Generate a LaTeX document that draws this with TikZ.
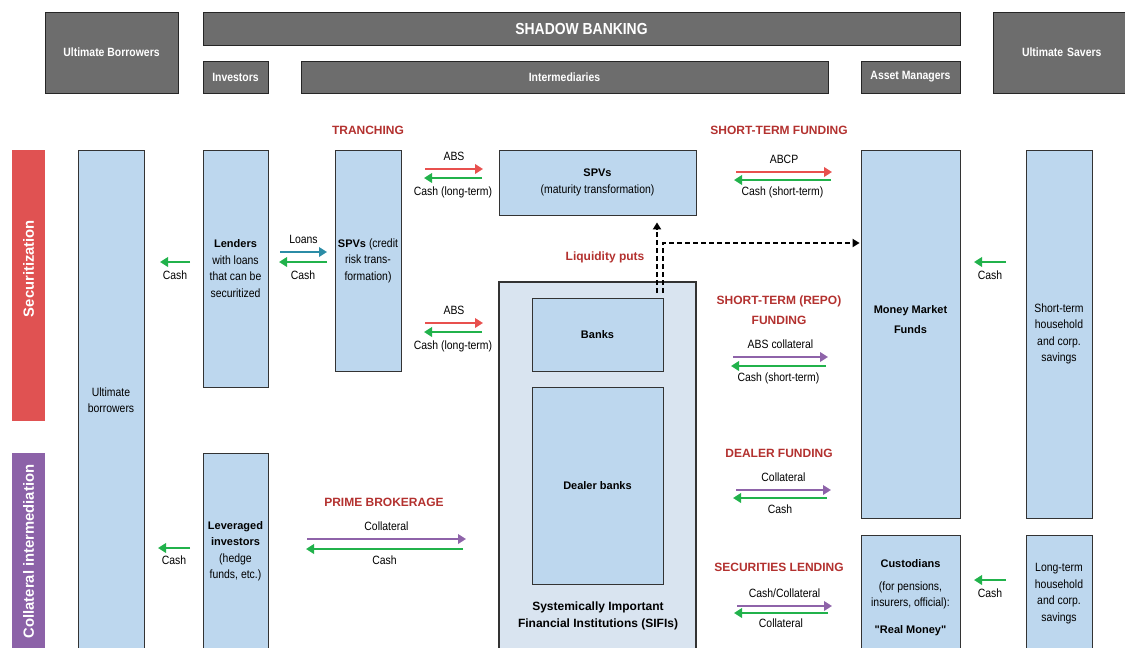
\documentclass[tikz,border=0pt]{standalone}
\usepackage{fontspec}
\setmainfont{Liberation Sans}[FakeStretch=0.87]
\newfontfamily\wideface{Liberation Sans}
\usetikzlibrary{positioning,arrows.meta}

\definecolor{hdgray}{HTML}{6D6D6D}
\definecolor{boxblue}{HTML}{BDD7EE}
\definecolor{sifiblue}{HTML}{D9E4F0}
\definecolor{secred}{HTML}{E05252}
\definecolor{collpurple}{HTML}{8C62A8}
\definecolor{flowred}{HTML}{E8504E}
\definecolor{flowgreen}{HTML}{21B24B}
\definecolor{flowpurple}{HTML}{8E63A9}
\definecolor{flowteal}{HTML}{2B8CA6}
\definecolor{headred}{HTML}{B3312F}

\newcommand{\bxtitle}[1]{{\wideface\bfseries\fontsize{11}{16.5}\selectfont #1}}

\begin{document}
\begin{tikzpicture}[x=1pt,y=-1pt]
\tikzstyle{hdr}=[draw=black!85,line width=1pt,fill=hdgray,text=white,inner sep=0pt,font=\bfseries\fontsize{12}{14}\selectfont]
\tikzstyle{sidebar}=[fill=#1,text=white,rotate=90,inner sep=0pt,minimum height=33pt,font=\wideface\bfseries\fontsize{14.8}{16}\selectfont]
\tikzstyle{bluebox}=[draw=black!80,line width=0.8pt,fill=boxblue,inner sep=0pt,align=center,font=\fontsize{12}{16.5}\selectfont]
\tikzstyle{boxtxt}=[inner sep=0pt,align=center,font=\fontsize{12}{16.5}\selectfont]
\tikzstyle{heading}=[inner sep=0pt,align=center,text=headred,font=\wideface\bfseries\fontsize{12}{20}\selectfont]
\tikzstyle{lbl}=[inner sep=0pt,text height=8.6pt,text depth=2.4pt,font=\fontsize{12}{14}\selectfont]
\tikzstyle{flow}=[line width=2.8pt,-{Triangle[length=8pt,width=9.5pt]},draw=#1]
\tikzstyle{puts}=[line width=2.2pt,dashed,dash pattern=on 5pt off 3pt,-{Triangle[length=7pt,width=8pt]}]

\useasboundingbox (0,0) rectangle (1125,648);
\clip (0,0) rectangle (1125,648);

% top bar
\node[hdr,minimum width=133pt,minimum height=81pt] (ubhead) at (111.5,52.5) {Ultimate Borrowers};
\node[hdr,minimum width=757pt,minimum height=33pt,font=\bfseries\fontsize{16}{18}\selectfont] (shadow) at (581.5,28.5) {SHADOW BANKING};
\node[hdr,minimum width=65pt,minimum height=32pt] (invhead) at (235.5,77) {Investors};
\node[hdr,minimum width=527pt,minimum height=32pt] (intmhead) at (564.5,77) {Intermediaries};
\node[hdr,minimum width=99pt,minimum height=32pt] (amhead) at (910.5,77) {Asset Managers};
\node[hdr,minimum width=137pt,minimum height=81pt,text width=131pt,align=left] (ushead) at (1061.5,52.5) {\hspace{26pt}Ultimate Savers};

% side bars
\node[sidebar=secred,minimum width=271pt] (secbar) at (28.5,285.5) {\hspace*{34pt}Securitization};
\node[sidebar=collpurple,minimum width=207pt] (collbar) at (28.5,556.5) {\hspace*{10pt}Collateral intermediation};

% boxes
\node[bluebox,minimum width=66pt,minimum height=500pt] (ubor) at (111,400) {Ultimate\\borrowers};
\node[bluebox,minimum width=65pt,minimum height=237pt] (lend) at (235.5,268.5) {\bxtitle{Lenders}\\with loans\\that can be\\securitized};
\node[bluebox,minimum width=66pt,minimum height=221pt] (spvc) at (368,260.5) {\bxtitle{SPVs} (credit\\risk trans-\\formation)};
\node[bluebox,minimum width=197pt,minimum height=65pt] (spvm) at (597.5,182.5) {\bxtitle{SPVs}\\(maturity transformation)};
\node[bluebox,fill=sifiblue,line width=1.3pt,minimum width=197pt,minimum height=378pt] (sifi) at (597.5,471) {};
\node[bluebox,minimum width=131pt,minimum height=73pt] (banks) at (597.5,334.5) {\bxtitle{Banks}};
\node[bluebox,minimum width=131pt,minimum height=197pt] (dealer) at (597.5,485.5) {\bxtitle{Dealer banks}};
\node[boxtxt,font=\wideface\bfseries\fontsize{12}{17}\selectfont] (sifilbl) at (598,615.5) {Systemically Important\\Financial Institutions (SIFIs)};
\node[bluebox,minimum width=99pt,minimum height=368pt] (mmf) at (910.5,334) {};
\node[boxtxt,font=\wideface\bfseries\fontsize{11}{20}\selectfont] (mmflbl) at (910.5,320) {Money Market\\Funds};
\node[bluebox,minimum width=99pt,minimum height=125pt] (cust) at (910.5,597.5) {\bxtitle{Custodians}\\[6.5pt](for pensions,\\insurers, official):\\[10.5pt]\bxtitle{"Real Money"}};
\node[bluebox,minimum width=66pt,minimum height=368pt] (stsav) at (1059,334) {Short-term\\household\\and corp.\\savings};
\node[bluebox,minimum width=66pt,minimum height=117pt] (ltsav) at (1059,593.5) {Long-term\\household\\and corp.\\savings};
\node[bluebox,minimum width=65pt,minimum height=197pt] (lev) at (235.5,551.5) {\bxtitle{Leveraged}\\\bxtitle{investors}\\(hedge\\funds, etc.)};

% headings
\node[heading] (tranch) at (368,130) {TRANCHING};
\node[heading] (stfund) at (779,130) {SHORT-TERM FUNDING};
\node[heading] (repo) at (779,310) {SHORT-TERM (REPO)\\FUNDING};
\node[heading] (dealfund) at (779,453) {DEALER FUNDING};
\node[heading] (seclend) at (779,567) {SECURITIES LENDING};
\node[heading] (prime) at (384,502) {PRIME BROKERAGE};
\node[heading] (liqputs) at (605,257) {Liquidity puts};

% flows
\draw[flow=flowgreen] (190,262) -- node[lbl,below=7pt] {Cash} (160,262);
\draw[flow=flowteal] (280,252) -- node[lbl,above=4.5pt] {Loans} (327,252);
\draw[flow=flowgreen] (327,262) -- node[lbl,below=7pt] {Cash} (279,262);
\draw[flow=flowred] (425,169) -- node[lbl,above=4.5pt] {ABS} (483,169);
\draw[flow=flowgreen] (482,178) -- node[lbl,below=7pt] {Cash (long-term)} (424,178);
\draw[flow=flowred] (425,323) -- node[lbl,above=4.5pt] {ABS} (483,323);
\draw[flow=flowgreen] (482,332) -- node[lbl,below=7pt] {Cash (long-term)} (424,332);
\draw[flow=flowred] (736,172) -- node[lbl,above=4.5pt] {ABCP} (832,172);
\draw[flow=flowgreen] (831,180) -- node[lbl,below=5pt] {Cash (short-term)} (734,180);
\draw[flow=flowpurple] (733,357) -- node[lbl,above=4.5pt] {ABS collateral} (828,357);
\draw[flow=flowgreen] (826,366) -- node[lbl,below=5pt] {Cash (short-term)} (731,366);
\draw[flow=flowpurple] (736,490) -- node[lbl,above=4.5pt] {Collateral} (831,490);
\draw[flow=flowgreen] (827,498) -- node[lbl,below=5pt] {Cash} (733,498);
\draw[flow=flowpurple] (737,606) -- node[lbl,above=4.5pt] {Cash/Collateral} (832,606);
\draw[flow=flowgreen] (828,613) -- node[lbl,below=4pt] {Collateral} (734,613);
\draw[flow=flowpurple] (307,539) -- node[lbl,above=4.5pt] {Collateral} (466,539);
\draw[flow=flowgreen] (463,549) -- node[lbl,below=5pt] {Cash} (306,549);
\draw[flow=flowgreen] (190,548) -- node[lbl,below=6pt] {Cash} (158,548);
\draw[flow=flowgreen] (1006,262) -- node[lbl,below=7pt] {Cash} (974,262);
\draw[flow=flowgreen] (1006,580) -- node[lbl,below=7pt] {Cash} (974,580);

% liquidity puts
\coordinate (putup) at (657,293);
\coordinate (putrt) at (663,293);
\coordinate (putknee) at (663,243);
\draw[puts,shorten >=7pt] (putup) -- (spvm.south -| putup);
\draw[puts,shorten >=1pt] (putrt) -- (putknee) -- (mmf.west |- putknee);
\end{tikzpicture}
\end{document}
